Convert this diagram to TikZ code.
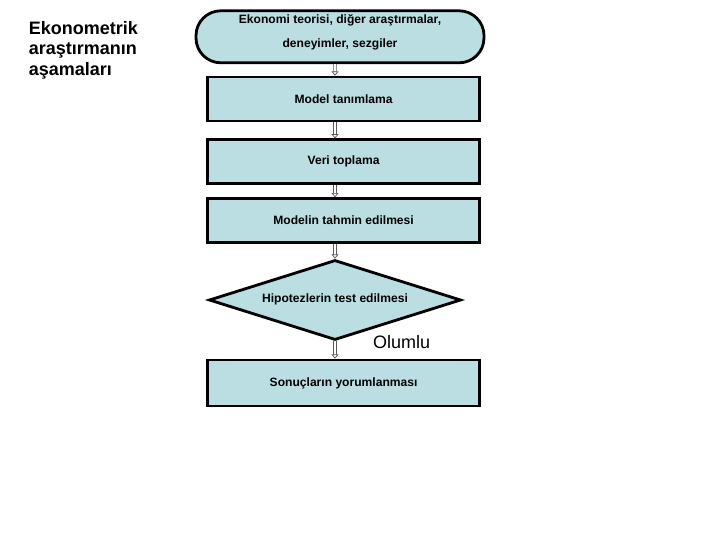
\documentclass[tikz,border=0pt]{standalone}
\usepackage{fontspec}
\setmainfont{Liberation Sans}
\usepackage{tikz}
\usetikzlibrary{shapes.geometric, arrows.meta, positioning, calc}
\definecolor{boxblue}{RGB}{187,222,226}
\tikzstyle{startstop} = [rectangle, rounded corners=0.62cm, minimum width=7.2cm, minimum height=1.3cm, text centered, draw=black, line width=2pt, fill=boxblue, font=\fontsize{8.6}{10}\selectfont\bfseries]
\tikzstyle{process} = [rectangle, minimum width=6.8cm, minimum height=1.1cm, text centered, draw=black, line width=2pt, fill=boxblue, font=\fontsize{8.6}{10}\selectfont\bfseries]
\tikzstyle{decision} = [diamond, aspect=3.07, minimum width=6.3cm, minimum height=2.0cm, inner sep=0pt, text centered, draw=black, line width=2pt, fill=boxblue, font=\fontsize{8.6}{10}\selectfont\bfseries]
\tikzstyle{arrow} = [draw=gray!70!black, double=white, double distance=1.3pt, line width=0.5pt, -{Triangle[open, length=3pt, width=5pt]}]

\begin{document}
\begin{tikzpicture}
    \useasboundingbox (0,0) rectangle (18,-13.5);

    % Title
    \node (title) [anchor=north west, align=left, font=\fontsize{12.8}{14.9}\selectfont\bfseries] at (0.6,-0.4) {Ekonometrik\\araştırmanın\\aşamaları};

    % Start
    \node (ekonomi) [startstop] at (8.5,-0.92) {\raisebox{0.1cm}[\height][\depth]{\begin{tabular}{@{}c@{}}Ekonomi teorisi, diğer araştırmalar,\\[7pt]deneyimler, sezgiler\end{tabular}}};

    % Steps
    \node (model) [process] at (8.59,-2.475) {Model tanımlama};
    \node (veri) [process, below=0.4cm of model] {Veri toplama};
    \node (tahmin) [process, below=0.3cm of veri] {Modelin tahmin edilmesi};

    % Test
    \node (hipotez) [decision] at (8.375,-7.5) {\raisebox{0.1cm}{Hipotezlerin test edilmesi}};
    \node (olumlu) [font=\fontsize{12.8}{14}\selectfont] at (10.04,-8.55) {Olumlu};

    % End
    \node (sonuc) [process, minimum height=1.15cm] at (8.59,-9.575) {Sonuçların yorumlanması};

    % Arrows
    \draw [arrow] ([xshift=-0.125cm]ekonomi.south) -- ([xshift=-0.215cm]model.north);
    \draw [arrow] ([xshift=-0.215cm]model.south) -- ([xshift=-0.215cm]veri.north);
    \draw [arrow] ([xshift=-0.215cm]veri.south) -- ([xshift=-0.215cm]tahmin.north);
    \draw [arrow] ([xshift=-0.215cm]tahmin.south) -- (hipotez.north);
    \draw [arrow] (hipotez.south) -- ([xshift=-0.215cm]sonuc.north);
\end{tikzpicture}
\end{document}
